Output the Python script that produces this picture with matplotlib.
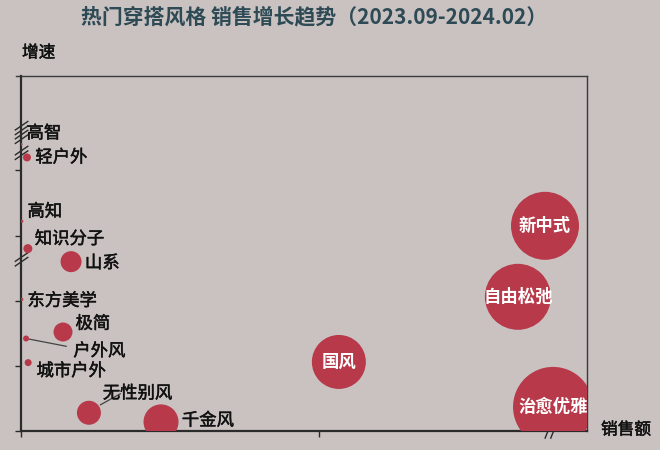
import matplotlib
matplotlib.use("Agg")
import matplotlib.pyplot as plt
import matplotlib.patheffects as pe

plt.rcParams['font.family'] = ['Noto Sans CJK SC', 'DejaVu Sans']

# 数据：风格、销售额(横轴)、增速(纵轴)、气泡大小
styles = ['高智', '轻户外', '高知', '知识分子', '山系', '东方美学', '极简', '户外风',
          '城市户外', '无性别风', '千金风', '国风', '自由松弛', '新中式', '治愈优雅']
sales = [0.0, 0.20, 0.03, 0.23, 1.68, 0.03, 1.41, 0.17,
         0.24, 2.28, 4.70, 10.67, 16.68, 17.59, 17.86]
growth = [4.40, 4.20, 3.22, 2.80, 2.60, 2.02, 1.52, 1.42,
          1.05, 0.28, 0.14, 1.06, 2.06, 3.15, 0.37]
bubble = [1.5, 4, 1.5, 4.5, 10.5, 1.5, 9.5, 3,
          3.5, 12, 17.5, 27, 33, 34, 40]

# 标签偏移(点)，白字的放在气泡中间
label_offset = {
    '高智': (4, 8), '轻户外': (6, 0), '高知': (4, 7), '知识分子': (5, 7),
    '山系': (10, -1), '东方美学': (4, -1), '极简': (9, 6), '户外风': (34, -9),
    '城市户外': (6, -6), '无性别风': (10, 14), '千金风': (15, 1),
}
inside = ['国风', '自由松弛', '新中式', '治愈优雅']

red = '#b8394a'
bg = '#c9c2c1'
dark = '#2b2b2b'
ink = '#111111'
thick = [pe.withStroke(linewidth=0.35, foreground=ink)]

fig = plt.figure(figsize=(6.6, 4.5), dpi=100, facecolor=bg)
ax = fig.add_axes([21 / 660, 19 / 450, 566 / 660, 355 / 450])
ax.set_facecolor(bg)

sizes = [(1.44 * r) ** 2 for r in bubble]
ax.scatter(sales, growth, s=sizes, color=red, edgecolors='none', zorder=3)

for name, x, y in zip(styles, sales, growth):
    if name in inside:
        ax.text(x, y, name, color='white', fontsize=12.5, fontweight='bold',
                ha='center', va='center', zorder=4)
    else:
        dx, dy = label_offset[name]
        ax.annotate(name, (x, y), xytext=(dx, dy), textcoords='offset points',
                    fontsize=12.5, color=ink, ha='left', va='center', zorder=4,
                    annotation_clip=False, path_effects=thick)

# 引线
ax.annotate('', xy=(sales[7], growth[7]), xytext=(31, -6), textcoords='offset points',
            arrowprops=dict(arrowstyle='-', color='#444444', lw=0.9), zorder=2)
ax.annotate('', xy=(sales[9] + 0.3, growth[9] + 0.1), xytext=(18, 10),
            textcoords='offset points',
            arrowprops=dict(arrowstyle='-', color='#444444', lw=0.9), zorder=2)

ax.set_xlim(0, 19)
ax.set_ylim(0, 5.45)
ax.set_xticks([0, 10])
ax.set_yticks([0, 1, 2, 3, 4])
ax.set_xticklabels([])
ax.set_yticklabels([])
ax.tick_params(axis='both', direction='out', length=4, width=1, color=dark)

for side in ['left', 'bottom']:
    ax.spines[side].set_color(dark)
    ax.spines[side].set_linewidth(1.6)
for side in ['top', 'right']:
    ax.spines[side].set_color('#3a3a3a')
    ax.spines[side].set_linewidth(1.0)
# 顶边向左多伸出一点
ax.plot([-0.009, 0], [1, 1], transform=ax.transAxes, color='#3a3a3a', lw=1.0,
        clip_on=False)

# 断轴标记
for yb in [0.86, 0.835, 0.79, 0.49]:
    ax.plot([-0.01, 0.012], [yb - 0.012, yb + 0.012], transform=ax.transAxes,
            color=dark, lw=1.0, clip_on=False)
    ax.plot([-0.01, 0.012], [yb - 0.025, yb - 0.001], transform=ax.transAxes,
            color=dark, lw=1.0, clip_on=False)
for xb in [0.932, 0.942]:
    ax.plot([xb - 0.006, xb + 0.004], [-0.02, 0.02], transform=ax.transAxes,
            color=dark, lw=1.0, clip_on=False)

fig.text(314 / 660, 1 - 17 / 450, '热门穿搭风格 销售增长趋势（2023.09-2024.02）',
         ha='center', va='center', fontsize=15, fontweight='bold', color='#2d4a55')
fig.text(22 / 660, 1 - 53 / 450, '增速', ha='left', va='center', fontsize=12,
         color=ink, path_effects=thick)
fig.text(601 / 660, 1 - 430 / 450, '销售额', ha='left', va='center', fontsize=12,
         color=ink, path_effects=thick)

fig.savefig('out.png', dpi=100, facecolor=bg)
